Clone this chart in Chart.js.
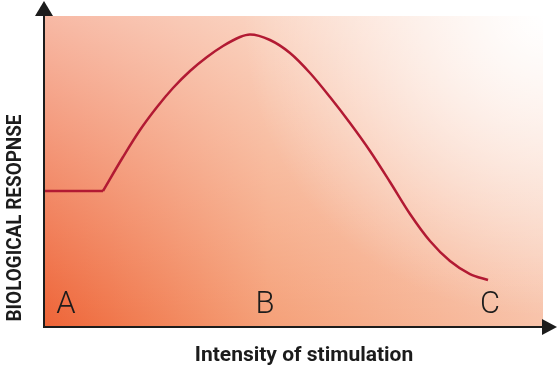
<!DOCTYPE html>
<html>
<head>
<meta charset="utf-8">
<script src="https://cdn.jsdelivr.net/npm/chart.js@4"></script>
<style>
  body { margin: 0; background: #fff; }
  #wrap { width: 558px; height: 372px; position: relative; }
</style>
</head>
<body>
<div id="wrap"><canvas id="graph"></canvas></div>
<script>
// Curve (x: stimulation 0-100, y: response 0-100)
const baseX = [0, 11.82];
const baseY = [43.73, 43.73];
const curveX = [11.82, 15.83, 19.24, 22.65, 25.85, 29.26, 32.67, 35.87, 39.28, 41.28, 45.29, 49.30, 53.31, 57.31, 61.32, 65.33, 69.34, 73.35, 77.35, 81.36, 85.37, 88.98];
const curveY = [43.73, 54.66, 63.34, 70.74, 76.85, 82.32, 86.82, 90.35, 93.25, 94.05, 92.28, 88.10, 81.67, 73.95, 65.59, 56.59, 46.62, 36.33, 27.65, 21.22, 17.04, 15.11];

// Letters along the bottom
const markLabels = ['A', 'B', 'C'];
const markX = [4.4, 44.3, 89.4];
const markY = 4.5;

const xTitle = 'Intensity of stimulation';
const yTitle = 'BIOLOGICAL RESOPNSE';

const lineColor = '#b21a33';
const axisColor = '#1c1c1c';

const toPoints = (xs, ys) => xs.map((x, i) => ({ x: x, y: ys[i] }));

// background, axes with arrows, titles and letters
const decor = {
    id: 'decor',
    beforeDatasetsDraw(chart) {
        const { ctx, chartArea: a } = chart;
        const w = a.right - a.left, h = a.bottom - a.top;
        ctx.save();
        // orange along the bottom, left to right
        const g = ctx.createLinearGradient(a.left, 0, a.right, 0);
        g.addColorStop(0, 'rgb(238,100,55)');
        g.addColorStop(0.45, 'rgb(245,160,120)');
        g.addColorStop(1, 'rgb(248,195,170)');
        ctx.fillStyle = g;
        ctx.fillRect(a.left, a.top, w, h);
        // paler towards the top
        const v = ctx.createLinearGradient(0, a.bottom, 0, a.top);
        v.addColorStop(0, 'rgba(255,255,255,0)');
        v.addColorStop(1, 'rgba(255,255,255,0.55)');
        ctx.fillStyle = v;
        ctx.fillRect(a.left, a.top, w, h);
        // white in the top right corner
        const r = ctx.createRadialGradient(a.right, a.top, 0, a.right, a.top, 300);
        r.addColorStop(0, 'rgba(255,255,255,1)');
        r.addColorStop(1, 'rgba(255,255,255,0)');
        ctx.fillStyle = r;
        ctx.fillRect(a.left, a.top, w, h);
        ctx.restore();
    },
    afterDraw(chart) {
        const { ctx, chartArea: a } = chart;
        const xs = chart.scales.x, ys = chart.scales.y;
        ctx.save();
        ctx.strokeStyle = axisColor;
        ctx.fillStyle = axisColor;
        ctx.lineWidth = 2;
        ctx.beginPath();
        ctx.moveTo(a.left, a.top);
        ctx.lineTo(a.left, a.bottom);
        ctx.lineTo(a.right, a.bottom);
        ctx.stroke();
        // y arrow
        ctx.beginPath();
        ctx.moveTo(a.left, 1);
        ctx.lineTo(a.left - 9, a.top);
        ctx.lineTo(a.left + 9, a.top);
        ctx.closePath();
        ctx.fill();
        // x arrow
        ctx.beginPath();
        ctx.moveTo(557, a.bottom);
        ctx.lineTo(a.right - 1, a.bottom - 8);
        ctx.lineTo(a.right - 1, a.bottom + 8);
        ctx.closePath();
        ctx.fill();

        // letters
        ctx.font = '300 31px Roboto, "DejaVu Sans", sans-serif';
        ctx.textAlign = 'center';
        ctx.textBaseline = 'alphabetic';
        markLabels.forEach((t, i) => {
            ctx.fillText(t, xs.getPixelForValue(markX[i]), ys.getPixelForValue(markY), 20);
        });

        // axis titles
        ctx.font = 'bold 21px Roboto, "DejaVu Sans", sans-serif';
        ctx.textBaseline = 'middle';
        ctx.fillText(xTitle, 304, 356, 222);
        ctx.translate(16, 218);
        ctx.rotate(-Math.PI / 2);
        ctx.fillText(yTitle, 0, 0, 207);
        ctx.restore();
    }
};

new Chart(document.getElementById('graph'), {
    type: 'line',
    data: {
        datasets: [
            {
                data: toPoints(baseX, baseY),
                borderColor: lineColor,
                borderWidth: 2.5,
                pointRadius: 0,
                tension: 0,
            },
            {
                data: toPoints(curveX, curveY),
                borderColor: lineColor,
                borderWidth: 2.5,
                pointRadius: 0,
                cubicInterpolationMode: 'monotone',
            },
        ],
    },
    options: {
        responsive: true,
        maintainAspectRatio: false,
        animation: false,
        layout: { padding: { left: 44, top: 16, right: 15, bottom: 45 } },
        plugins: { legend: { display: false }, tooltip: { enabled: false } },
        scales: {
            x: { type: 'linear', min: 0, max: 100, display: false },
            y: { min: 0, max: 100, display: false },
        },
    },
    plugins: [decor],
});
</script>
</body>
</html>
